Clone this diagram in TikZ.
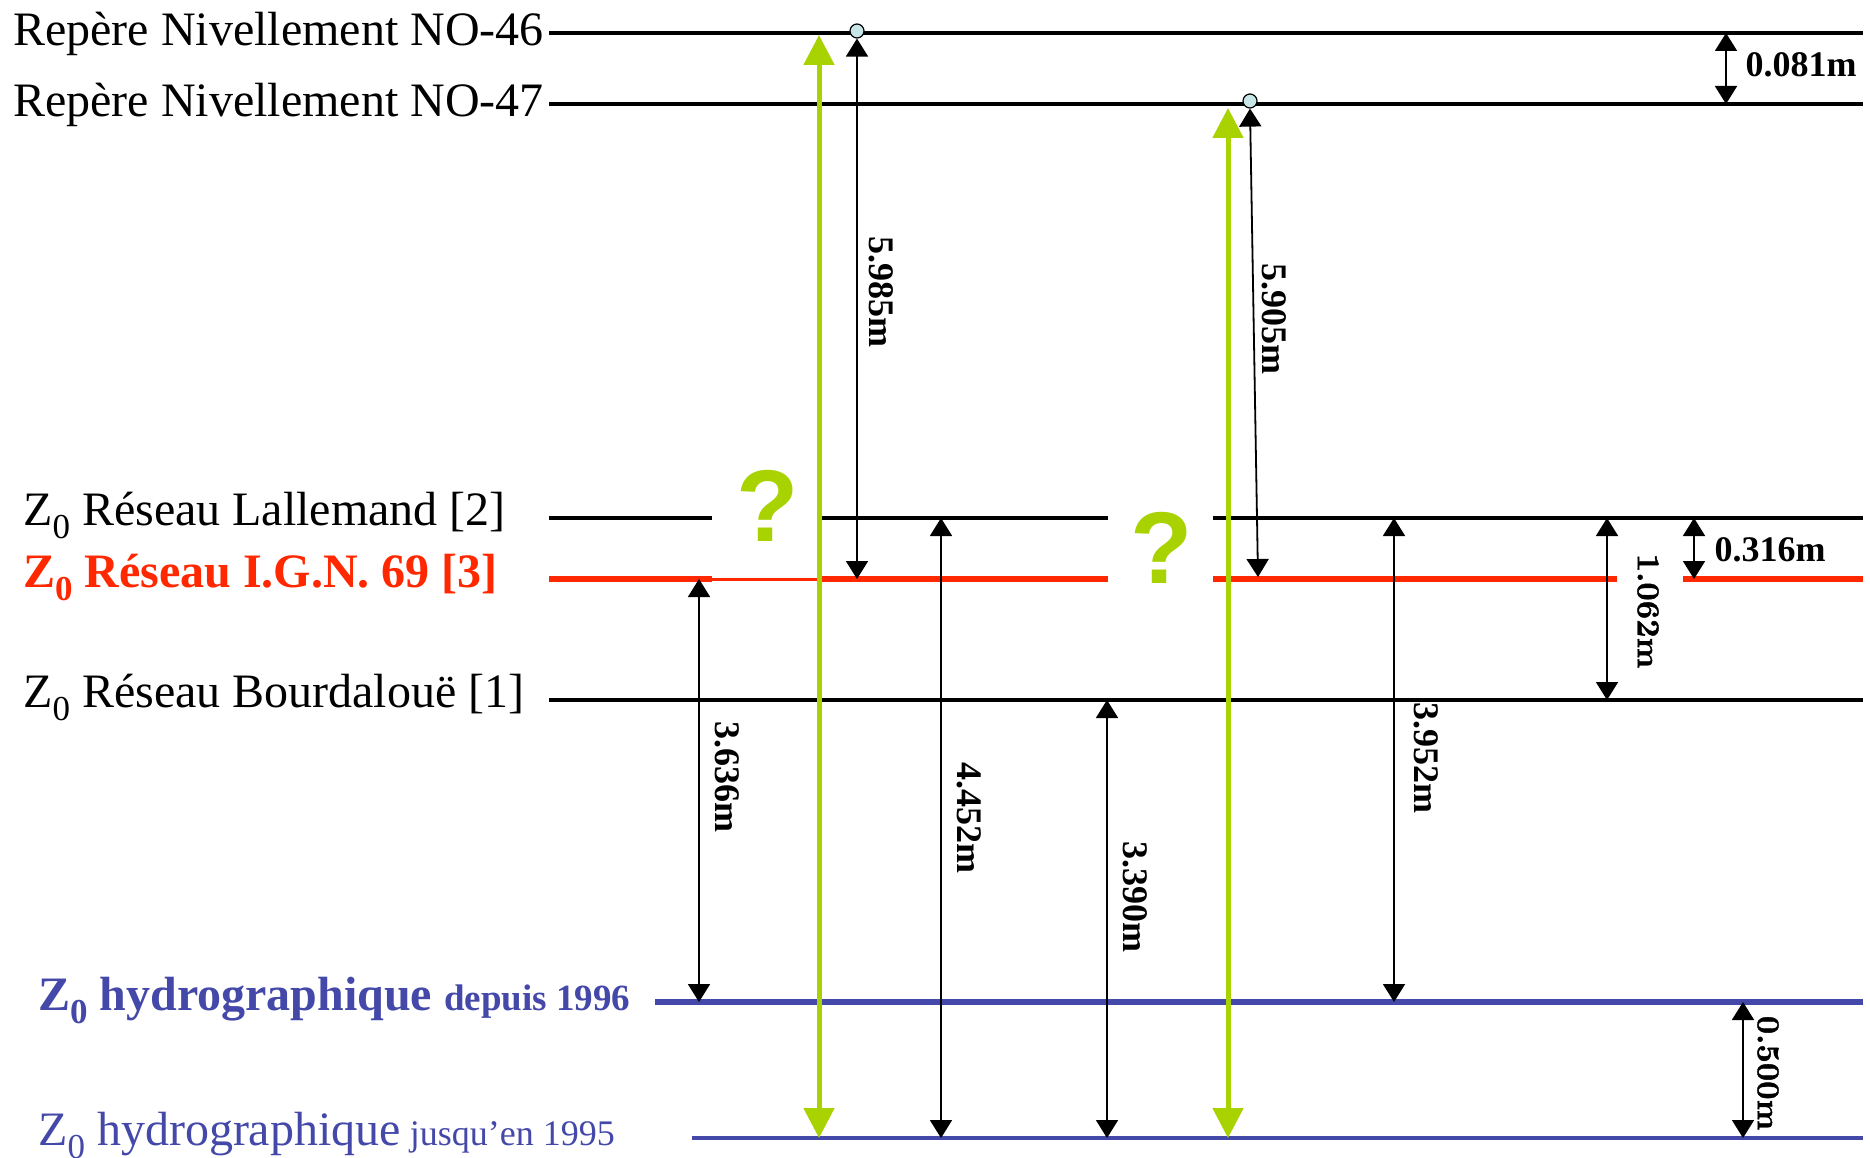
\documentclass[tikz,border=0pt]{standalone}
\usepackage{fontspec}
\newfontfamily\tms{Liberation Serif}
\newfontfamily\hel{Liberation Sans}
\newfontfamily\lmb{lmroman10-bold}[Extension=.otf, FakeBold=1.2]
\usetikzlibrary{arrows.meta}
\definecolor{lvred}{RGB}{255,40,0}
\definecolor{lvblue}{RGB}{68,72,168}
\definecolor{lvgreen}{RGB}{168,210,0}
\definecolor{mkfill}{RGB}{200,230,232}
\newcommand\zsubz{\raisebox{-13pt}{\fontsize{35}{35}\selectfont 0}}
\tikzset{
  lvl/.style={line width=3.5pt, draw=black},
  redthick/.style={line width=5.5pt, draw=lvred},
  redthin/.style={line width=3pt, draw=lvred},
  dimarrow/.style={line width=1.8pt, {Triangle[width=22pt,length=18pt]}-{Triangle[width=22pt,length=18pt]}},
  grarrow/.style={draw=lvgreen, line width=5pt, {Triangle[width=30pt,length=30pt]}-{Triangle[width=30pt,length=30pt]}},
  lbl/.style={inner sep=0pt, anchor=base west, font=\tms\fontsize{48}{50}\selectfont},
  vlbl/.style={inner sep=0pt, rotate=-90, font=\tms\bfseries\fontsize{36}{40}\selectfont},
  vlblcm/.style={inner sep=0pt, rotate=-90, font=\lmb\fontsize{32}{36}\selectfont},
  hlbl/.style={inner sep=0pt, font=\tms\bfseries\fontsize{36}{40}\selectfont},
  qmark/.style={inner sep=0pt, text=lvgreen, font=\hel\bfseries\fontsize{102}{102}\selectfont},
  marker/.style={circle, draw=black, fill=mkfill, minimum size=14pt, inner sep=0pt, line width=1.2pt}
}
\begin{document}
\begin{tikzpicture}[x=1pt,y=-1pt]
\fill[white] (0,0) rectangle (1870,1158);
\useasboundingbox (0,0) rectangle (1870,1158);

% level line end points
\coordinate (n46a) at (549,33);   \coordinate (n46b) at (1863,33);
\coordinate (n47a) at (549,104);  \coordinate (n47b) at (1863,104);
\coordinate (lal1a) at (549,518); \coordinate (lal1b) at (712,518);
\coordinate (lal2a) at (818,518); \coordinate (lal2b) at (1108,518);
\coordinate (lal3a) at (1213,518);\coordinate (lal3b) at (1863,518);
\coordinate (ign1a) at (549,579); \coordinate (ign1b) at (712,579);
\coordinate (ign2a) at (818,579); \coordinate (ign2b) at (1108,579);
\coordinate (ign3a) at (1213,579);\coordinate (ign3b) at (1617,579);
\coordinate (ign4a) at (1683,579);\coordinate (ign4b) at (1863,579);
\coordinate (bouA) at (549,700);  \coordinate (bouB) at (1863,700);
\coordinate (h96a) at (655,1002); \coordinate (h96b) at (1863,1002);
\coordinate (h95a) at (692,1138); \coordinate (h95b) at (1863,1138);

% level lines
\draw[lvl] (n46a) -- (n46b);
\draw[lvl] (n47a) -- (n47b);
\draw[lvl] (lal1a) -- (lal1b);
\draw[lvl] (lal2a) -- (lal2b);
\draw[lvl] (lal3a) -- (lal3b);
\draw[redthick] (ign1a) -- (ign1b);
\draw[redthin] (ign1b) -- (ign2a);
\draw[redthick] (ign2a) -- (ign2b);
\draw[redthick] (ign3a) -- (ign3b);
\draw[redthick] (ign4a) -- (ign4b);
\draw[lvl] (bouA) -- (bouB);
\draw[lvblue, line width=6pt] (h96a) -- (h96b);
\draw[lvblue, line width=4pt] (h95a) -- (h95b);

% left labels
\node[lbl] (tn46) at (13,46) {Repère Nivellement NO-46};
\node[lbl] (tn47) at (13,117) {Repère Nivellement NO-47};
\node[lbl] (tlal) at (23,525) {Z\zsubz{} Réseau Lallemand [2]};
\node[lbl, text=lvred, font=\tms\bfseries\fontsize{48}{50}\selectfont] (tign) at (23,587) {Z\zsubz{} Réseau I.G.N. 69 [3]};
\node[lbl] (tbou) at (23,707) {Z\zsubz{} Réseau Bourdalouë [1]};
\node[lbl, text=lvblue, font=\tms\bfseries\fontsize{48}{50}\selectfont] (th96) at (38,1010) {Z\zsubz{} hydrographique {\fontsize{37}{40}\selectfont depuis 1996}};
\node[lbl, text=lvblue] (th95) at (38,1145) {Z\zsubz{} hydrographique{\fontsize{36}{40}\selectfont\ jusqu’en 1995}};

% markers
\node[marker] (m46) at (857,31) {};
\node[marker] (m47) at (1250,101) {};

% green arrows
\coordinate (g1t) at (819,35);  \coordinate (g1b) at (819,1138);
\coordinate (g2t) at (1228,108); \coordinate (g2b) at (1228,1138);
\draw[grarrow] (g1t) -- (g1b);
\draw[grarrow] (g2t) -- (g2b);

% dimension arrows
\coordinate (a1b) at (857,579);
\coordinate (a2b) at (1258,577);
\coordinate (a3t) at (1726,33);  \coordinate (a3b) at (1726,104);
\coordinate (a4t) at (1694,518); \coordinate (a4b) at (1694,579);
\coordinate (a5t) at (1607,518); \coordinate (a5b) at (1607,700);
\coordinate (a6t) at (699,579);  \coordinate (a6b) at (699,1002);
\coordinate (a7t) at (941,518);  \coordinate (a7b) at (941,1138);
\coordinate (a8t) at (1107,700); \coordinate (a8b) at (1107,1138);
\coordinate (a9t) at (1394,518); \coordinate (a9b) at (1394,1002);
\coordinate (a10t) at (1743,1002); \coordinate (a10b) at (1743,1138);
\draw[dimarrow] (m46.south) -- (a1b);
\draw[dimarrow] (m47.south) -- (a2b);
\draw[dimarrow] (a3t) -- (a3b);
\draw[dimarrow] (a4t) -- (a4b);
\draw[dimarrow] (a5t) -- (a5b);
\draw[dimarrow] (a6t) -- (a6b);
\draw[dimarrow] (a7t) -- (a7b);
\draw[dimarrow] (a8t) -- (a8b);
\draw[dimarrow] (a9t) -- (a9b);
\draw[dimarrow] (a10t) -- (a10b);

% dimension labels
\node[vlbl] (l1) at (881,292) {5.985m};
\node[vlbl] (l2) at (1274,319) {5.905m};
\node[hlbl] (l3) at (1801,65) {0.081m};
\node[hlbl] (l4) at (1770,550) {0.316m};
\node[vlblcm] (l5) at (1648,611) {1.062m};
\node[vlbl] (l6) at (727,777) {3.636m};
\node[vlbl] (l7) at (969,818) {4.452m};
\node[vlbl] (l8) at (1135,897) {3.390m};
\node[vlbl] (l9) at (1426,758) {3.952m};
\node[vlblcm] (l10) at (1768,1073) {0.500m};

% question marks
\node[qmark] (q1) at (768,506) {?};
\node[qmark] (q2) at (1162,548) {?};
\end{tikzpicture}
\end{document}
